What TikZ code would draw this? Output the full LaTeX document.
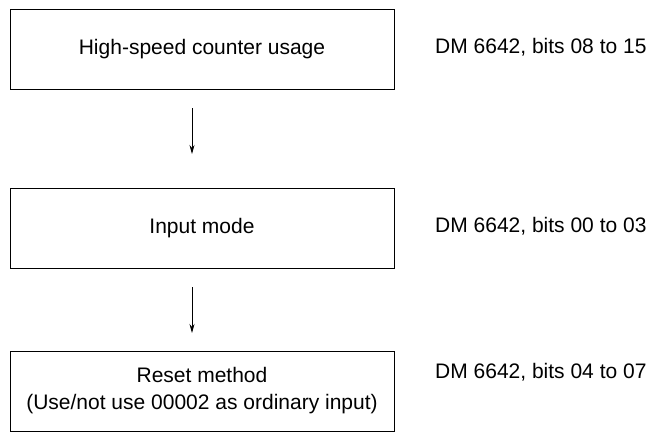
\documentclass[tikz,border=0pt]{standalone}
\usepackage{fontspec}
\setmainfont{Liberation Sans}
\usetikzlibrary{arrows.meta}
\begin{document}
\begin{tikzpicture}[x=1pt,y=-1pt,
  box/.style={draw,line width=0.8pt,minimum width=384pt,minimum height=80pt,align=center,inner sep=0pt,font=\fontsize{21}{27}\selectfont},
  lab/.style={anchor=west,inner sep=0pt,font=\fontsize{21}{27}\selectfont},
  arr/.style={-{Stealth[length=9pt,width=5pt]},line width=0.8pt}]
\useasboundingbox (0,0) rectangle (665,437);
\node[box] (b1) at (202,49) {High-speed counter usage};
\node[box] (b2) at (202,228) {Input mode};
\node[box] (b3) at (202,391) {Reset method\\(Use/not use 00002 as ordinary input)};
\node[lab] (l1) at (435,47) {DM 6642, bits 08 to 15};
\node[lab] (l2) at (435,226) {DM 6642, bits 00 to 03};
\node[lab] (l3) at (435,372) {DM 6642, bits 04 to 07};
\coordinate (a1s) at (192,108); \coordinate (a1e) at (192,154);
\coordinate (a2s) at (192,287); \coordinate (a2e) at (192,333);
\draw[arr] (a1s) -- (a1e);
\draw[arr] (a2s) -- (a2e);
\end{tikzpicture}
\end{document}
